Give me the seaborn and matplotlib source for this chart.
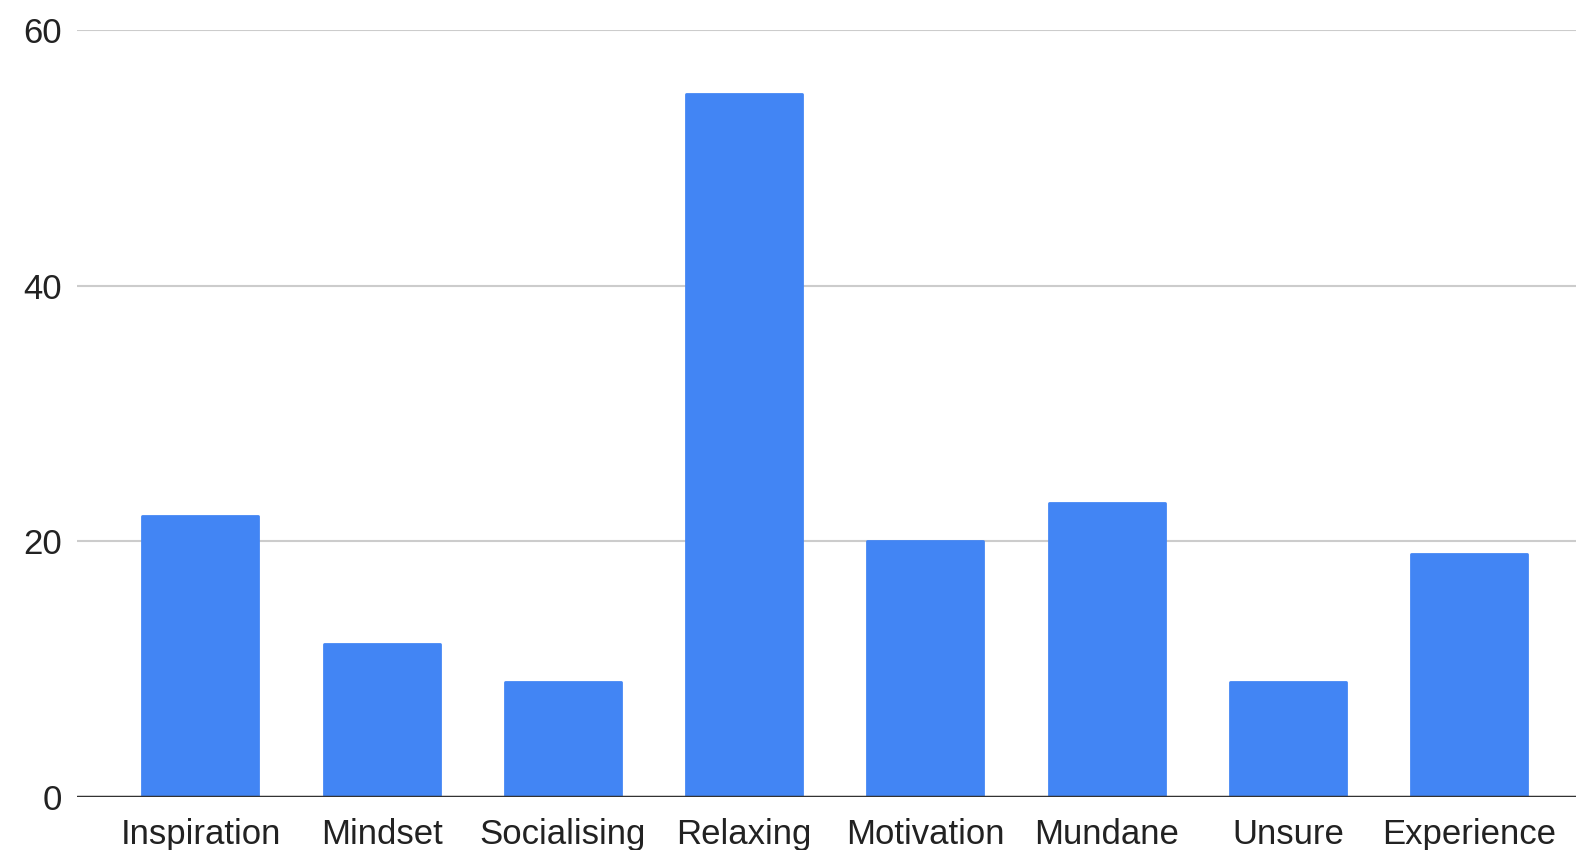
import pandas as pd
import matplotlib
matplotlib.use("Agg")
import matplotlib.pyplot as plt
import seaborn as sns

# valores
categorias = ["Inspiration", "Mindset", "Socialising", "Relaxing",
              "Motivation", "Mundane", "Unsure", "Experience"]
valores = [22, 12, 9, 55, 20, 23, 9, 19]
ticks_y = [0, 20, 40, 60]

df = pd.DataFrame({"categoria": categorias, "valor": valores})

sns.set_theme(style="white")
plt.rcParams["font.family"] = ["Liberation Sans", "DejaVu Sans"]

fig = plt.figure(figsize=(15.76, 8.5), dpi=100)
ax = fig.add_axes([0.049, 0.0625, 0.951, 0.902])

sns.barplot(data=df, x="categoria", y="valor", ax=ax, color="#4285F4",
            saturation=1, width=0.64, zorder=3)

# esquinas algo redondeadas
for barra in ax.patches:
    barra.set_edgecolor("#4285F4")
    barra.set_linewidth(2)
    barra.set_joinstyle("round")

ax.set_ylim(0, 60)
ax.set_xlim(-0.68, 7.59)
ax.set_yticks(ticks_y)
ax.yaxis.grid(True, color="#cccccc", linewidth=1.5, zorder=0)
ax.axhline(0, color="#333333", linewidth=2.5, zorder=4)

for lado in ["top", "right", "left", "bottom"]:
    ax.spines[lado].set_visible(False)

ax.tick_params(axis="x", labelsize=25, length=0, pad=15, colors="#222222")
ax.tick_params(axis="y", labelsize=25, length=0, pad=11, colors="#222222")
ax.set_xlabel("")
ax.set_ylabel("")

fig.savefig("out.png", dpi=100, facecolor="white")
